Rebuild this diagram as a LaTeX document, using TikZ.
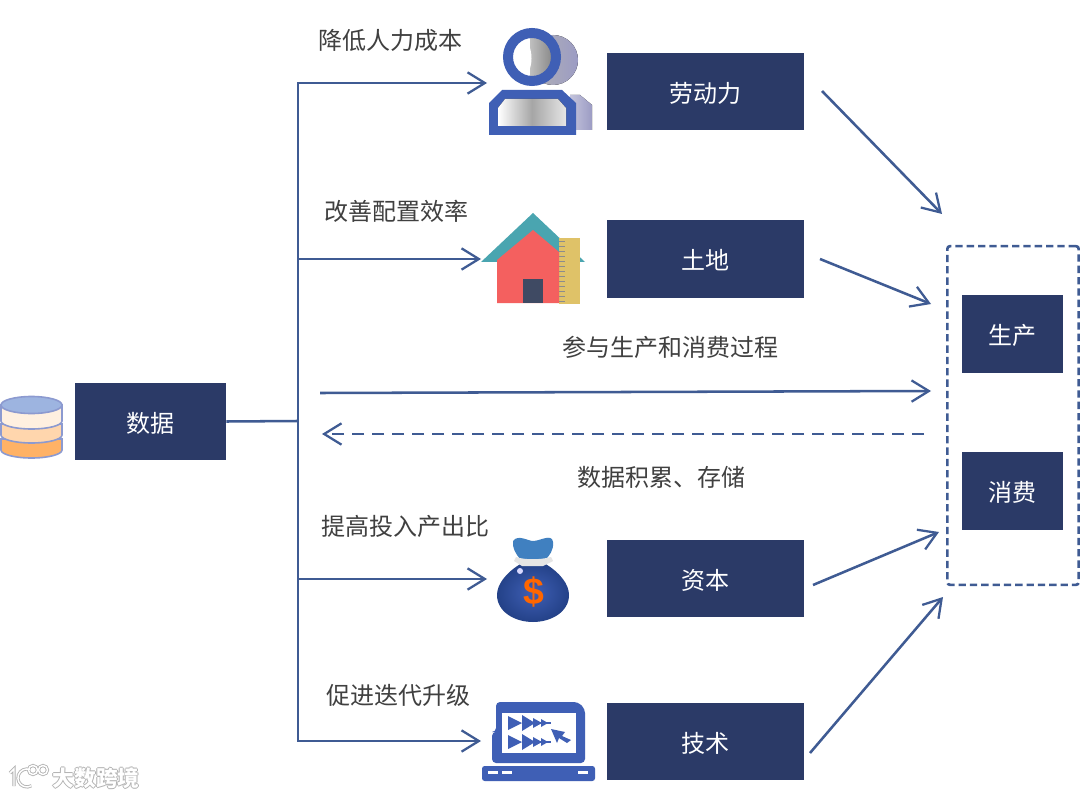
\documentclass[tikz,border=0pt]{standalone}
\usepackage{fontspec}
\setmainfont{Liberation Sans}
\newfontfamily\cjk{Noto Sans CJK SC}
\usetikzlibrary{arrows.meta,shapes.geometric}
\definecolor{navy}{HTML}{2B3A67}
\definecolor{linec}{HTML}{3F5B93}
\definecolor{iconb}{HTML}{3F5FB5}
\definecolor{roofc}{HTML}{4AA5B0}
\definecolor{housec}{HTML}{F4605F}
\definecolor{doorc}{HTML}{3F4A63}
\definecolor{rulerc}{HTML}{DFC268}
\definecolor{bagc}{HTML}{2A4DA0}
\definecolor{bagtop}{HTML}{4080C0}
\definecolor{dbtop}{HTML}{9DB4E0}
\definecolor{dbline}{HTML}{8C9AD0}
\definecolor{backc}{HTML}{9C9CC4}
\tikzset{
 x=0.75pt,y=-0.75pt,
 box/.style={fill=navy,draw=none,text=white,font=\cjk\fontsize{18}{20}\selectfont,inner sep=0pt},
 lab/.style={text=black!75,font=\cjk\fontsize{18}{20}\selectfont,inner sep=0pt},
 conn/.style={draw=linec,line width=1.9pt,-{Straight Barb[length=13pt,width=16pt,line width=1.7pt]}},
 plain/.style={draw=linec,line width=1.9pt},
 dashconn/.style={conn,dash pattern=on 9pt off 6pt},
}
\begin{document}
\begin{tikzpicture}
\useasboundingbox (0,0) rectangle (1080,798);
\fill[white] (0,0) rectangle (1080,798);
% boxes
\newcommand{\pxbox}[6]{\node[box,minimum width=#4*0.75pt,minimum height=#5*0.75pt] (#1) at (#2,#3) {\raisebox{-7.9pt}[0pt][0pt]{#6}};}
\pxbox{shuju}{150.5}{421.5}{151}{77}{数据}
\pxbox{laodong}{705.5}{91.5}{197}{77}{劳动力}
\pxbox{tudi}{705.5}{259}{197}{78}{土地}
\pxbox{ziben}{705.5}{578.5}{197}{77}{资本}
\pxbox{jishu}{705.5}{741.5}{197}{77}{技术}
\pxbox{shengchan}{1012.5}{334}{101}{78}{生产}
\pxbox{xiaofei}{1012.5}{491}{101}{78}{消费}
\node[draw=linec,line width=2pt,dash pattern=on 5.5pt off 3pt,rounded corners=2pt,minimum width=98.5pt,minimum height=254pt,inner sep=0pt] (group) at (1013,415.5) {};
% labels
\node[lab] (l1) at (390,40.5) {降低人力成本};
\node[lab] (l2) at (396,211.5) {改善配置效率};
\node[lab] (l3) at (670,347.5) {参与生产和消费过程};
\node[lab] (l4) at (661,477.5) {数据积累、存储};
\node[lab] (l5) at (405,526.5) {提高投入产出比};
\node[lab] (l6) at (398,695.5) {促进迭代升级};
% connector points
\coordinate (tMid) at (298,421);
\coordinate (tA) at (298,259);
\coordinate (tC) at (298,579);
\coordinate (eA) at (487,83);
\coordinate (eB) at (481,259);
\coordinate (eC) at (487,579);
\coordinate (eD) at (481,741);
\draw[plain] (shuju.east) -- (tMid);
\draw[conn] (tMid) -- (298,83) -- (eA);
\draw[conn] (tMid) -- (298,741) -- (eD);
\draw[conn] (tA) -- (eB);
\draw[conn] (tC) -- (eC);
\coordinate (f1) at (320,393); \coordinate (f2) at (931,391);
\coordinate (b1) at (924,434); \coordinate (b2) at (322,434);
\draw[conn] (f1) -- (f2);
\draw[dashconn] (b1) -- (b2);
\coordinate (d1a) at (822,91);  \coordinate (d1b) at (942,214);
\coordinate (d2a) at (820,259); \coordinate (d2b) at (931,304);
\coordinate (d3a) at (813,585); \coordinate (d3b) at (939,532);
\coordinate (d4a) at (810,753); \coordinate (d4b) at (943,597);
\draw[conn] (d1a) -- (d1b);
\draw[conn] (d2a) -- (d2b);
\draw[conn] (d3a) -- (d3b);
\draw[conn] (d4a) -- (d4b);
% database icon
\begin{scope}[line width=1.2pt]
\filldraw[fill=orange!60!white,draw=dbline] (1,439) -- (1,450) arc[start angle=180,end angle=360,x radius=30.5,y radius=-8] -- (62,439) -- cycle;
\filldraw[fill=orange!32!white,draw=dbline] (1,424) -- (1,435) arc[start angle=180,end angle=360,x radius=30.5,y radius=-8] -- (62,424) -- cycle;
\filldraw[fill=orange!12!white,draw=dbline] (1,405) -- (1,421) arc[start angle=180,end angle=360,x radius=30.5,y radius=-8] -- (62,405) -- cycle;
\filldraw[fill=dbtop,draw=dbline] (31.5,405) ellipse[x radius=30.5,y radius=8.5];
\end{scope}
% person icon
\fill[left color=backc!60,right color=backc] (570,95) -- (580,95) -- (592,105) -- (592,130) -- (570,130) -- cycle;
\fill[left color=black!30,right color=backc] (553,60) circle[radius=25];
\fill[white] (532,57) circle[radius=20];
\begin{scope}
\clip (532,57) circle[radius=20];
\fill[left color=black!25,right color=black!50] (530,30) rectangle (556,85);
\fill[white] (518,30) .. controls (536,45) and (536,72) .. (518,85) -- cycle;
\end{scope}
\draw[iconb,line width=7.5pt] (532,57) circle[radius=24];
\fill[iconb] (502,90) -- (562,90) -- (576,103) -- (576,135) -- (489,135) -- (489,103) -- cycle;
\fill[left color=white,right color=black!10,middle color=black!35] (505,99) -- (558,99) -- (566,108) -- (566,126) -- (498,126) -- (498,108) -- cycle;
% house icon
\fill[roofc] (533,213) -- (585,262) -- (481,262) -- cycle;
\fill[rulerc] (559,238) rectangle (580,304);
\foreach \yy in {241,246,...,302}{\draw[black!45,line width=0.4pt] (559,\yy) -- (565,\yy);}
\fill[housec] (497,260) -- (533,230) -- (559,252) -- (559,303) -- (497,303) -- cycle;
\fill[doorc] (523,279) rectangle (543,303);
% money bag
\fill[bagtop] (513,541) .. controls (518,534) and (528,541) .. (533,541) .. controls (540,541) and (552,533) .. (553,542) .. controls (554,550) and (549,556) .. (546,559) -- (520,559) .. controls (516,554) and (512,548) .. (513,541) -- cycle;
\shade[inner color=iconb,outer color=bagc!85!black] (522,563) .. controls (505,573) and (497,585) .. (497,595) .. controls (497,612) and (515,622) .. (533,622) .. controls (551,622) and (569,612) .. (569,595) .. controls (569,585) and (561,573) .. (544,563) -- cycle;
\fill[black!10] (516,557) .. controls (525,560) and (540,560) .. (551,557) -- (553,561) -- (543,566) -- (522,566) -- (514,561) -- cycle;
\fill[white!85!blue] (520,571) circle[radius=3];
\node[inner sep=0pt,text=orange!80!red,font=\bfseries\fontsize{28}{30}\selectfont] (dollar) at (534,592) {\$};
% laptop
\fill[iconb,rounded corners=3pt] (496,732) -- (496,702) -- (578,702) -- (585,709) -- (585,763) -- (492,763) -- (492,732) -- cycle;
\fill[white] (502,713) rectangle (576,753);
\fill[iconb,rounded corners=2pt] (482,766) rectangle (595,781);
\foreach \xa in {488,502,578}{\fill[white] (\xa,771) rectangle ++(10,3);}
\foreach \yb in {723,742}{
 \fill[iconb] (508,\yb-7) -- (522,\yb) -- (508,\yb+7) -- cycle;
 \fill[iconb] (522,\yb-8) -- (535,\yb) -- (522,\yb+8) -- cycle;
 \fill[iconb] (533,\yb-5) -- (542,\yb) -- (533,\yb+5) -- cycle;
 \fill[iconb] (541,\yb-4) -- (548,\yb) -- (541,\yb+4) -- cycle;
 \draw[iconb,line width=1.2pt] (530,\yb) -- (551,\yb);
}
\fill[iconb] (551,729) -- (565,732) -- (562,736) -- (571,740) -- (567,743) -- (559,738) -- (557,743) -- cycle;
% watermark
\foreach \dx/\dy in {-1/0,1/0,0/-1,0/1}{
\node[inner sep=0pt,text=black!30,font=\cjk\bfseries\fontsize{16.3}{18}\selectfont] at (96+\dx,778+\dy) {大数跨境};
}
\node[inner sep=0pt,text=white,font=\cjk\bfseries\fontsize{16.3}{18}\selectfont] (wm) at (96,778) {大数跨境};
\foreach \lw/\cc in {2.4pt/black!30,1.1pt/white}{
\begin{scope}[draw=\cc,line width=\lw]
\draw (10,773) -- (14,769) -- (14,786);
\draw (30,769.5) arc[start angle=-70,end angle=-300,radius=9];
\draw (33,770) circle[radius=4.5];
\draw (43,770) circle[radius=4.5];
\end{scope}}
\end{tikzpicture}
\end{document}
